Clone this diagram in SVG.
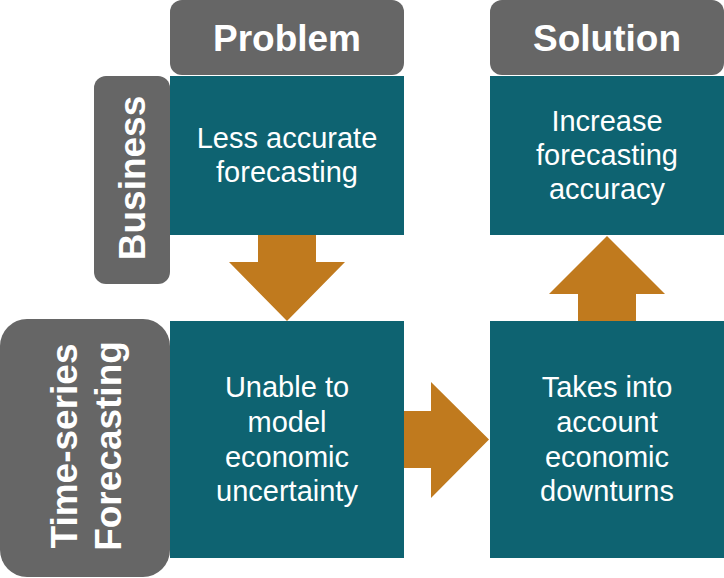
<svg xmlns="http://www.w3.org/2000/svg" width="724" height="578" viewBox="0 0 724 578">
<style>
.hdr{fill:#666666}
.box{fill:#0E6371}
.arr{fill:#C07A1E}
.ht{font-family:"Liberation Sans",Arial,sans-serif;font-weight:bold;font-size:37px;fill:#FFFFFF;text-anchor:middle}
.bt{font-family:"Liberation Sans",Arial,sans-serif;font-size:29px;fill:#FFFFFF;text-anchor:middle}
</style>
<rect width="724" height="578" fill="#FFFFFF"/>
<g id="header-problem">
<rect class="hdr" x="170" y="0" width="234" height="75" rx="12"/>
<text class="ht" x="287" y="51">Problem</text>
</g>
<g id="header-solution">
<rect class="hdr" x="490" y="0" width="234" height="75" rx="12"/>
<text class="ht" x="607" y="51">Solution</text>
</g>
<g id="label-business">
<rect class="hdr" x="94" y="76" width="76" height="208" rx="12"/>
<text class="ht" transform="translate(145,178) rotate(-90)">Business</text>
</g>
<g id="label-timeseries">
<rect class="hdr" x="0" y="319" width="170" height="258" rx="27"/>
<text class="ht" transform="translate(77,446) rotate(-90)">Time-series</text>
<text class="ht" transform="translate(121,446) rotate(-90)">Forecasting</text>
</g>
<g id="connectors">
<polygon class="arr" points="258,234 316,234 316,262 345,262 287,321 229,262 258,262"/>
<polygon class="arr" points="403,411 431,411 431,382 489,439.5 431,498 431,468 403,468"/>
<polygon class="arr" points="578,322 636,322 636,294 665,294 607,236 549,294 578,294"/>
</g>
<g id="box-less-accurate">
<rect class="box" x="170" y="76" width="234" height="159"/>
<text class="bt" x="287" y="148">Less accurate</text>
<text class="bt" x="287" y="182">forecasting</text>
</g>
<g id="box-increase">
<rect class="box" x="490" y="76" width="234" height="159"/>
<text class="bt" x="607" y="131">Increase</text>
<text class="bt" x="607" y="165">forecasting</text>
<text class="bt" x="607" y="199">accuracy</text>
</g>
<g id="box-unable">
<rect class="box" x="170" y="321" width="234" height="237"/>
<text class="bt" x="287" y="397">Unable to</text>
<text class="bt" x="287" y="432">model</text>
<text class="bt" x="287" y="467">economic</text>
<text class="bt" x="287" y="501">uncertainty</text>
</g>
<g id="box-takes">
<rect class="box" x="490" y="321" width="234" height="237"/>
<text class="bt" x="607" y="397">Takes into</text>
<text class="bt" x="607" y="432">account</text>
<text class="bt" x="607" y="467">economic</text>
<text class="bt" x="607" y="501">downturns</text>
</g>
</svg>
